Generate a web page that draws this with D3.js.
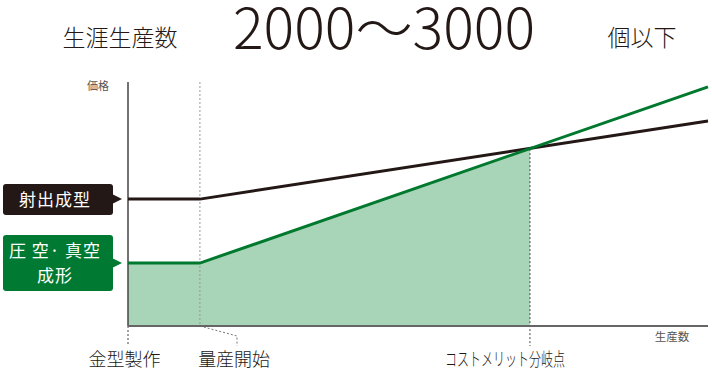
<!DOCTYPE html>
<html>
<head>
<meta charset="utf-8">
<script src="https://cdn.jsdelivr.net/npm/d3@7"></script>
<style>
  body { margin: 0; background: #fff; }
  svg text { font-family: "Noto Sans CJK JP", "Noto Sans", sans-serif; }
</style>
</head>
<body>
<div id="chart"></div>
<script>
// price vs production volume (abstract units 0-100)
const injectionLine = [[0, 52], [12.4, 52], [100, 84]];
const vacuumLine = [[0, 25.8], [12.4, 25.8], [100, 98]];
const costArea = [[0, 25.8], [12.4, 25.8], [69.3, 72.5]];

const markers = [
  { x: 0, top: 0, label: "金型製作", labelX: -0.6, width: null },
  { x: 12.4, top: 100, label: "量産開始", labelX: 18.3, width: null },
  { x: 69.3, top: 72.5, label: "コストメリット分岐点", labelX: 65, width: 120 }
];

const titleLeft = "生涯生産数";
const titleMain = "2000〜3000";
const titleRight = "個以下";

const svg = d3.select("#chart").append("svg")
  .attr("width", 712).attr("height", 377);

const x = d3.scaleLinear().domain([0, 100]).range([128, 708]);
const y = d3.scaleLinear().domain([0, 100]).range([326, 82]);

// title
svg.append("text").attr("x", 120).attr("y", 46).attr("text-anchor", "middle")
  .attr("font-size", 23).attr("font-weight", 300).attr("fill", "#231815").text(titleLeft);
svg.append("text").attr("x", 384).attr("y", 49).attr("text-anchor", "middle")
  .attr("font-size", 56).attr("font-weight", 300).attr("fill", "#231815")
  .attr("textLength", 302).attr("lengthAdjust", "spacingAndGlyphs").text(titleMain);
svg.append("text").attr("x", 642).attr("y", 46).attr("text-anchor", "middle")
  .attr("font-size", 23).attr("font-weight", 300).attr("fill", "#231815").text(titleRight);

// fill
const area = d3.area().x(d => x(d[0])).y0(y(0)).y1(d => y(d[1]));
svg.append("path").datum(costArea).attr("d", area).attr("fill", "#a8d5b8");

// dotted markers
markers.forEach(m => {
  const mass = m.top === 100;
  svg.append("line").attr("x1", x(m.x)).attr("x2", x(m.x))
    .attr("y1", y(m.top)).attr("y2", mass ? y(0) : 346)
    .attr("stroke", mass ? "#999" : "#444").attr("stroke-width", 1)
    .attr("stroke-dasharray", "2,2");
});
// leader for 量産開始
svg.append("polyline")
  .attr("points", [[x(12.4), y(0)], [237, 336], [237, 346]].map(p => p.join(",")).join(" "))
  .attr("fill", "none").attr("stroke", "#777").attr("stroke-width", 1)
  .attr("stroke-dasharray", "2,2");

markers.forEach(m => {
  const t = svg.append("text").attr("x", x(m.labelX)).attr("y", 366).attr("text-anchor", "middle")
    .attr("font-size", 18).attr("font-weight", 300).attr("fill", "#231815").text(m.label);
  if (m.width) t.attr("textLength", m.width).attr("lengthAdjust", "spacingAndGlyphs");
});

// axes
svg.append("line").attr("x1", x(0)).attr("x2", x(0)).attr("y1", y(100)).attr("y2", y(0))
  .attr("stroke", "#444").attr("stroke-width", 1.5);
svg.append("line").attr("x1", x(0)).attr("x2", x(100)).attr("y1", y(0)).attr("y2", y(0))
  .attr("stroke", "#666").attr("stroke-width", 2);
svg.append("text").attr("x", 98).attr("y", 90).attr("text-anchor", "middle")
  .attr("font-size", 11).attr("fill", "#555").text("価格");
svg.append("text").attr("x", 672).attr("y", 341).attr("text-anchor", "middle")
  .attr("font-size", 11.5).attr("fill", "#555").text("生産数");

// lines
const line = d3.line().x(d => x(d[0])).y(d => y(d[1]));
svg.append("path").datum(injectionLine).attr("d", line)
  .attr("fill", "none").attr("stroke", "#231815").attr("stroke-width", 3);
svg.append("path").datum(vacuumLine).attr("d", line)
  .attr("fill", "none").attr("stroke", "#00792f").attr("stroke-width", 3);

// callout labels
function callout(top, bottom, tipY, color, lines) {
  const g = svg.append("g");
  g.append("rect").attr("x", 3).attr("y", top).attr("width", 110).attr("height", bottom - top)
    .attr("rx", 3).attr("fill", color);
  g.append("path")
    .attr("d", `M112,${tipY - 5}L122,${tipY}L112,${tipY + 5}Z`).attr("fill", color);
  const mid = (top + bottom) / 2;
  lines.forEach((t, i) => {
    g.append("text").attr("x", 55).attr("y", mid + (i - (lines.length - 1) / 2) * 25 + 6)
      .attr("text-anchor", "middle").attr("font-size", 17).attr("letter-spacing", 1)
      .attr("fill", "#fff").text(t);
  });
}
callout(184, 215, y(52), "#231815", ["射出成型"]);
callout(235, 291, y(25.8), "#007a33", ["圧 空· 真空", "成形"]);
</script>
</body>
</html>
